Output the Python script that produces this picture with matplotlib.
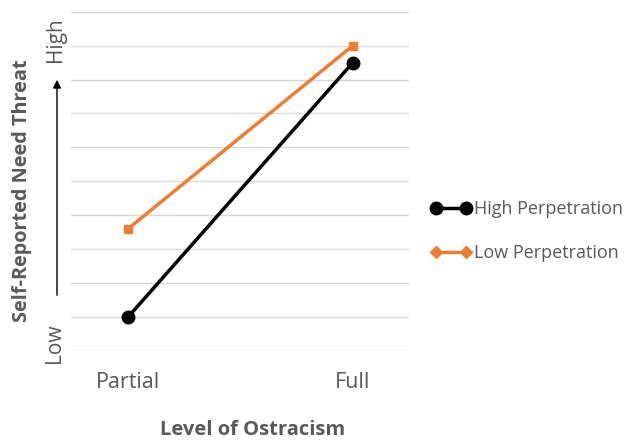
import matplotlib
matplotlib.use("Agg")
import matplotlib.pyplot as plt
from matplotlib.lines import Line2D

categories = ["Partial", "Full"]
high_perp = [1.0, 8.5]
low_perp = [3.6, 9.0]
series_names = ["High Perpetration", "Low Perpetration"]

GRAY = "#595959"
ORANGE = "#ED7D31"
FONT = "Open Sans"

fig = plt.figure(figsize=(6.34, 4.41), dpi=100)
W, H = 634, 441
ax = fig.add_axes([71 / W, 1 - 350.7 / H, (409 - 71) / W, (350.7 - 11.7) / H])

x = list(range(len(categories)))
ax.plot(x, high_perp, color="black", lw=2.5, marker="o", ms=9, zorder=3)
ax.plot(x, low_perp, color=ORANGE, lw=2.5, marker="s", ms=6, zorder=3)

ax.set_xlim(-0.255, 1.25)
ax.set_ylim(0, 10)
ax.set_yticks(range(0, 11))
ax.yaxis.grid(True, color="#D9D9D9", lw=1)
ax.set_axisbelow(True)
ax.tick_params(axis="y", left=False, labelleft=False)
ax.set_xticks(x)
ax.set_xticklabels(categories, fontsize=15.5, color=GRAY, family=FONT)
ax.tick_params(axis="x", bottom=False, pad=12)
for s in ax.spines.values():
    s.set_visible(False)

ax.set_xlabel("Level of Ostracism", fontsize=14.5, fontweight="bold", color=GRAY,
              family=FONT)
ax.xaxis.set_label_coords((253 - 71) / 338, -(430 - 350.7) / 339, transform=ax.transAxes)
ax.xaxis.label.set_va("center")
fig.text(22 / W, 1 - 191 / H, "Self-Reported Need Threat", rotation=90, fontsize=14.3,
         fontweight="bold", color=GRAY, family=FONT, ha="center", va="center")
fig.text(55 / W, 1 - 40 / H, "High", rotation=90, fontsize=15, color=GRAY,
         family=FONT, ha="center", va="center")
fig.text(55 / W, 1 - 343 / H, "Low", rotation=90, fontsize=15, color=GRAY,
         family=FONT, ha="center", va="center")
fig.add_artist(matplotlib.patches.FancyArrowPatch(
    (57 / W, 1 - 298 / H), (57 / W, 1 - 77 / H), transform=fig.transFigure,
    arrowstyle="-|>", mutation_scale=12, color="black", lw=1))

handles = [Line2D([], [], color="black", lw=2.5, marker="o", ms=9),
           Line2D([], [], color=ORANGE, lw=2.5, marker="D", ms=6.5)]
fig.legend(handles, series_names, loc="center left",
           bbox_to_anchor=(414 / W, 1 - 231 / H), frameon=False, numpoints=2,
           handlelength=2.3, handletextpad=0.1, labelspacing=1.45,
           prop={"family": FONT, "size": 13}, labelcolor=GRAY)

fig.savefig("out.png", dpi=100)
